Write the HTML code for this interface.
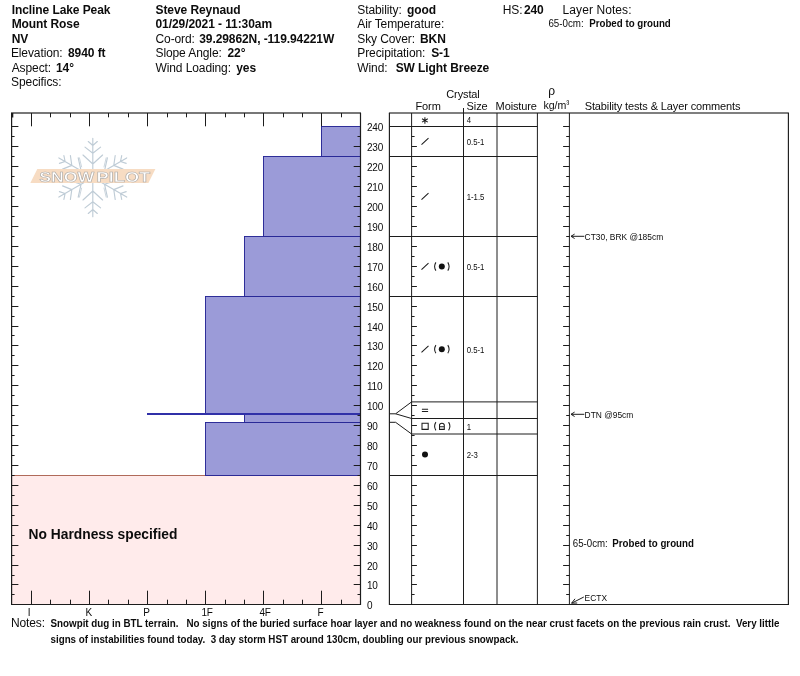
<!DOCTYPE html>
<html lang="en"><head><meta charset="utf-8"><title>Snow Pit Profile - Incline Lake Peak</title>
<style>
html,body{margin:0;padding:0;background:#fff;}
body{width:800px;height:676px;overflow:hidden;}
svg{display:block;}
text{font-family:"Liberation Sans",sans-serif;fill:#0c0c0c;font-size:12px;letter-spacing:-0.1px;}
.b{font-weight:bold;letter-spacing:-0.08px;}
.s{font-size:9.7px;letter-spacing:-0.05px;}
.c{font-size:9.4px;letter-spacing:0;}
.z{font-size:9.5px;letter-spacing:0;}
.n{font-size:10.6px;letter-spacing:0;}
.h{font-size:11px;letter-spacing:-0.12px;}
.ax{font-size:10px;letter-spacing:-0.2px;}
.ln{stroke:#1c1c1c;stroke-width:1;fill:none;}
.bar{fill:#9b9bd8;stroke:#262696;stroke-width:0.95;}
.sf{stroke:#bfccd6;stroke-width:1.15;fill:none;stroke-linecap:round;}
</style></head><body>
<svg width="800" height="676" viewBox="0 0 800 676">
<rect x="0" y="0" width="800" height="676" fill="#ffffff"/>

<text x="11.70" y="13.90" xml:space="preserve"><tspan class="b">Incline Lake Peak</tspan></text>
<text x="11.70" y="28.30" xml:space="preserve"><tspan class="b">Mount Rose</tspan></text>
<text x="11.70" y="42.80" xml:space="preserve"><tspan class="b">NV</tspan></text>
<text x="10.90" y="57.20" xml:space="preserve"><tspan>Elevation:</tspan><tspan class="b" x="68.00">8940 ft</tspan></text>
<text x="11.70" y="71.80" xml:space="preserve"><tspan>Aspect:</tspan><tspan class="b" x="56.00">14°</tspan></text>
<text x="11.10" y="86.30" xml:space="preserve"><tspan>Specifics:</tspan></text>
<text x="155.50" y="13.90" xml:space="preserve"><tspan class="b">Steve Reynaud</tspan></text>
<text x="155.50" y="28.30" xml:space="preserve"><tspan class="b">01/29/2021 - 11:30am</tspan></text>
<text x="155.50" y="42.80" xml:space="preserve"><tspan>Co-ord:</tspan><tspan class="b" x="199.20">39.29862N, -119.94221W</tspan></text>
<text x="155.50" y="57.20" xml:space="preserve"><tspan>Slope Angle:</tspan><tspan class="b" x="227.50">22°</tspan></text>
<text x="155.50" y="71.80" xml:space="preserve"><tspan>Wind Loading:</tspan><tspan class="b" x="236.20">yes</tspan></text>
<text x="357.30" y="13.90" xml:space="preserve"><tspan>Stability:</tspan><tspan class="b" x="407.00">good</tspan></text>
<text x="357.30" y="28.30" xml:space="preserve"><tspan>Air Temperature:</tspan></text>
<text x="357.30" y="42.80" xml:space="preserve"><tspan>Sky Cover:</tspan><tspan class="b" x="420.00">BKN</tspan></text>
<text x="357.30" y="57.20" xml:space="preserve"><tspan>Precipitation:</tspan><tspan class="b" x="431.20">S-1</tspan></text>
<text x="357.30" y="71.80" xml:space="preserve"><tspan>Wind:</tspan><tspan class="b" x="395.70">SW Light Breeze</tspan></text>
<text x="502.80" y="13.90" xml:space="preserve"><tspan>HS:</tspan><tspan class="b" x="523.90">240</tspan></text>
<text x="562.6" y="13.90" style="letter-spacing:0.08px">Layer Notes:</text>
<text class="n" x="548.4" y="27.3" textLength="35.3" lengthAdjust="spacingAndGlyphs">65-0cm:</text>
<text class="n b" x="589.2" y="27.3" textLength="81.6" lengthAdjust="spacingAndGlyphs">Probed to ground</text>
<rect x="11.60" y="475.50" width="348.90" height="129.00" fill="#ffebeb"/>
<line x1="11.60" y1="475.50" x2="360.50" y2="475.50" stroke="#b06a5a" stroke-width="1"/>
<rect class="bar" x="321.50" y="126.50" width="39.00" height="30.00"/>
<rect class="bar" x="263.50" y="156.50" width="97.00" height="80.00"/>
<rect class="bar" x="244.50" y="236.50" width="116.00" height="60.00"/>
<rect class="bar" x="205.50" y="296.50" width="155.00" height="117.00"/>
<rect class="bar" x="244.50" y="414.50" width="116.00" height="8.00"/>
<rect class="bar" x="205.50" y="422.50" width="155.00" height="53.00"/>
<rect x="147.00" y="413" width="213.50" height="2" fill="#3030a8"/>
<path class="sf" d="M92.8 177.5L92.8 138.3M92.8 145.5L88.3 141.5M92.8 145.5L97.3 141.5M92.8 153.3L85.0 147.1M92.8 153.3L100.6 147.1M92.8 164.0L83.0 155.0M92.8 164.0L102.6 155.0M92.8 177.5L126.7 157.9M120.5 161.5L121.7 155.6M120.5 161.5L126.2 163.4M113.8 165.4L115.2 155.5M113.8 165.4L123.0 169.1M104.5 170.8L107.4 157.8M104.5 170.8L117.2 174.7M92.8 177.5L126.7 197.1M120.5 193.5L126.2 191.6M120.5 193.5L121.7 199.4M113.8 189.6L123.0 185.9M113.8 189.6L115.2 199.5M104.5 184.2L117.2 180.3M104.5 184.2L107.4 197.2M92.8 177.5L92.8 216.7M92.8 209.5L97.3 213.5M92.8 209.5L88.3 213.5M92.8 201.7L100.6 207.9M92.8 201.7L85.0 207.9M92.8 191.0L102.6 200.0M92.8 191.0L83.0 200.0M92.8 177.5L58.9 197.1M65.1 193.5L63.9 199.4M65.1 193.5L59.4 191.6M71.8 189.6L70.4 199.5M71.8 189.6L62.6 185.9M81.1 184.2L78.2 197.2M81.1 184.2L68.4 180.3M92.8 177.5L58.9 157.9M65.1 161.5L59.4 163.4M65.1 161.5L63.9 155.6M71.8 165.4L62.6 169.1M71.8 165.4L70.4 155.5M81.1 170.8L68.4 174.7M81.1 170.8L78.2 157.8"/>
<path class="sf" d="M79.4 157.8L81.6 166.9M79.4 197.2L81.6 188.1M106.2 157.8L104.0 166.9M106.2 197.2L104.0 188.1" style="stroke-width:0.8"/>
<path d="M37.3 168.9H155.4L148.4 182.9H30.3Z" fill="#f7dcc3"/>
<text x="39.2" y="182.0" textLength="55" lengthAdjust="spacingAndGlyphs" style="font-size:14px;font-weight:bold;fill:#ffffff;stroke:#aeaaa6;stroke-width:0.55;letter-spacing:0">SNOW</text>
<text x="96.6" y="182.0" textLength="53.6" lengthAdjust="spacingAndGlyphs" style="font-size:14px;font-weight:bold;fill:#ffffff;stroke:#aeaaa6;stroke-width:0.55;letter-spacing:0">PILOT</text>
<path class="ln" d="M11.00 113.00H361.00" style="stroke-width:1.7;stroke:#4a4a4a"/>
<path class="ln" d="M11.60 113.00V604.50H360.50V113.00" style="stroke-width:1.2"/>
<path class="ln" d="M12.6 113.00v4.5" style="stroke-width:1.4"/>
<path class="ln" d="M31.50 113.00v13.30M31.50 604.50v-13.80M50.50 113.00v4.30M50.50 604.50v-4.80M70.50 113.00v4.30M70.50 604.50v-4.80M89.50 113.00v13.30M89.50 604.50v-13.80M108.50 113.00v4.30M108.50 604.50v-4.80M128.50 113.00v4.30M128.50 604.50v-4.80M147.50 113.00v13.30M147.50 604.50v-13.80M167.50 113.00v4.30M167.50 604.50v-4.80M186.50 113.00v4.30M186.50 604.50v-4.80M205.50 113.00v13.30M205.50 604.50v-13.80M225.50 113.00v4.30M225.50 604.50v-4.80M244.50 113.00v4.30M244.50 604.50v-4.80M263.50 113.00v13.30M263.50 604.50v-13.80M283.50 113.00v4.30M283.50 604.50v-4.80M302.50 113.00v4.30M302.50 604.50v-4.80M321.50 113.00v13.30M321.50 604.50v-13.80M341.50 113.00v4.30M341.50 604.50v-4.80M11.60 594.50h3.00M360.50 594.50h-3.00M11.60 584.50h6.80M360.50 584.50h-6.80M11.60 575.50h3.00M360.50 575.50h-3.00M11.60 565.50h6.80M360.50 565.50h-6.80M11.60 555.50h3.00M360.50 555.50h-3.00M11.60 545.50h6.80M360.50 545.50h-6.80M11.60 535.50h3.00M360.50 535.50h-3.00M11.60 525.50h6.80M360.50 525.50h-6.80M11.60 515.50h3.00M360.50 515.50h-3.00M11.60 505.50h6.80M360.50 505.50h-6.80M11.60 495.50h3.00M360.50 495.50h-3.00M11.60 485.50h6.80M360.50 485.50h-6.80M11.60 475.50h3.00M360.50 475.50h-3.00M11.60 465.50h6.80M360.50 465.50h-6.80M11.60 455.50h3.00M360.50 455.50h-3.00M11.60 445.50h6.80M360.50 445.50h-6.80M11.60 435.50h3.00M360.50 435.50h-3.00M11.60 425.50h6.80M360.50 425.50h-6.80M11.60 415.50h3.00M360.50 415.50h-3.00M11.60 405.50h6.80M360.50 405.50h-6.80M11.60 395.50h3.00M360.50 395.50h-3.00M11.60 385.50h6.80M360.50 385.50h-6.80M11.60 375.50h3.00M360.50 375.50h-3.00M11.60 365.50h6.80M360.50 365.50h-6.80M11.60 355.50h3.00M360.50 355.50h-3.00M11.60 345.50h6.80M360.50 345.50h-6.80M11.60 335.50h3.00M360.50 335.50h-3.00M11.60 326.50h6.80M360.50 326.50h-6.80M11.60 316.50h3.00M360.50 316.50h-3.00M11.60 306.50h6.80M360.50 306.50h-6.80M11.60 296.50h3.00M11.60 286.50h6.80M360.50 286.50h-6.80M11.60 276.50h3.00M360.50 276.50h-3.00M11.60 266.50h6.80M360.50 266.50h-6.80M11.60 256.50h3.00M360.50 256.50h-3.00M11.60 246.50h6.80M360.50 246.50h-6.80M11.60 236.50h3.00M11.60 226.50h6.80M360.50 226.50h-6.80M11.60 216.50h3.00M360.50 216.50h-3.00M11.60 206.50h6.80M360.50 206.50h-6.80M11.60 196.50h3.00M360.50 196.50h-3.00M11.60 186.50h6.80M360.50 186.50h-6.80M11.60 176.50h3.00M360.50 176.50h-3.00M11.60 166.50h6.80M360.50 166.50h-6.80M11.60 156.50h3.00M11.60 146.50h6.80M360.50 146.50h-6.80M11.60 136.50h3.00M360.50 136.50h-3.00M11.60 126.50h6.80"/>
<text class="ax" x="27.70" y="615.60">I</text>
<text class="ax" x="85.50" y="615.60">K</text>
<text class="ax" x="143.20" y="615.60">P</text>
<text class="ax" x="201.40" y="615.60">1F</text>
<text class="ax" x="259.40" y="615.60">4F</text>
<text class="ax" x="317.60" y="615.60">F</text>
<text class="ax" x="367.00" y="608.70">0</text>
<text class="ax" x="367.00" y="588.70">10</text>
<text class="ax" x="367.00" y="569.70">20</text>
<text class="ax" x="367.00" y="549.70">30</text>
<text class="ax" x="367.00" y="529.70">40</text>
<text class="ax" x="367.00" y="509.70">50</text>
<text class="ax" x="367.00" y="489.70">60</text>
<text class="ax" x="367.00" y="469.70">70</text>
<text class="ax" x="367.00" y="449.70">80</text>
<text class="ax" x="367.00" y="429.70">90</text>
<text class="ax" x="367.00" y="409.70">100</text>
<text class="ax" x="367.00" y="389.70">110</text>
<text class="ax" x="367.00" y="369.70">120</text>
<text class="ax" x="367.00" y="349.70">130</text>
<text class="ax" x="367.00" y="330.70">140</text>
<text class="ax" x="367.00" y="310.70">150</text>
<text class="ax" x="367.00" y="290.70">160</text>
<text class="ax" x="367.00" y="270.70">170</text>
<text class="ax" x="367.00" y="250.70">180</text>
<text class="ax" x="367.00" y="230.70">190</text>
<text class="ax" x="367.00" y="210.70">200</text>
<text class="ax" x="367.00" y="190.70">210</text>
<text class="ax" x="367.00" y="170.70">220</text>
<text class="ax" x="367.00" y="150.70">230</text>
<text class="ax" x="367.00" y="130.70">240</text>
<text class="b" x="28.6" y="538.8" style="font-size:13.8px;letter-spacing:0">No Hardness specified</text>
<path class="ln" d="M388.90 113.00H788.90" style="stroke-width:1.7;stroke:#555"/>
<path class="ln" d="M389.40 113.00V604.50H788.40V113.00" style="stroke-width:1.15"/>
<path class="ln" d="M411.60 113.00V604.50M463.50 108.00V604.50M497.00 113.00V604.50M537.40 113.00V604.50M569.40 113.00V604.50M389.40 126.50H537.40M389.40 156.50H537.40M389.40 236.50H537.40M389.40 296.50H537.40M389.40 475.50H537.40M411.60 401.90H537.40M411.60 418.50H537.40M411.60 434.00H537.40M389.40 413.8H395.6L411.60 401.90M395.6 413.8L411.60 418.50M389.40 422.3H395.6L411.60 434.00M569.40 126.50h-6.3M411.60 594.50h3.00M569.40 594.50h-3.20M411.60 584.50h5.30M569.40 584.50h-6.30M411.60 575.50h3.00M569.40 575.50h-3.20M411.60 565.50h5.30M569.40 565.50h-6.30M411.60 555.50h3.00M569.40 555.50h-3.20M411.60 545.50h5.30M569.40 545.50h-6.30M411.60 535.50h3.00M569.40 535.50h-3.20M411.60 525.50h5.30M569.40 525.50h-6.30M411.60 515.50h3.00M569.40 515.50h-3.20M411.60 505.50h5.30M569.40 505.50h-6.30M411.60 495.50h3.00M569.40 495.50h-3.20M411.60 485.50h5.30M569.40 485.50h-6.30M411.60 475.50h3.00M569.40 475.50h-3.20M411.60 465.50h5.30M569.40 465.50h-6.30M411.60 455.50h3.00M569.40 455.50h-3.20M411.60 445.50h5.30M569.40 445.50h-6.30M411.60 435.50h3.00M569.40 435.50h-3.20M411.60 425.50h5.30M569.40 425.50h-6.30M411.60 415.50h3.00M569.40 415.50h-3.20M411.60 405.50h5.30M569.40 405.50h-6.30M411.60 395.50h3.00M569.40 395.50h-3.20M411.60 385.50h5.30M569.40 385.50h-6.30M411.60 375.50h3.00M569.40 375.50h-3.20M411.60 365.50h5.30M569.40 365.50h-6.30M411.60 355.50h3.00M569.40 355.50h-3.20M411.60 345.50h5.30M569.40 345.50h-6.30M411.60 335.50h3.00M569.40 335.50h-3.20M411.60 326.50h5.30M569.40 326.50h-6.30M411.60 316.50h3.00M569.40 316.50h-3.20M411.60 306.50h5.30M569.40 306.50h-6.30M411.60 296.50h3.00M569.40 296.50h-3.20M411.60 286.50h5.30M569.40 286.50h-6.30M411.60 276.50h3.00M569.40 276.50h-3.20M411.60 266.50h5.30M569.40 266.50h-6.30M411.60 256.50h3.00M569.40 256.50h-3.20M411.60 246.50h5.30M569.40 246.50h-6.30M411.60 236.50h3.00M569.40 236.50h-3.20M411.60 226.50h5.30M569.40 226.50h-6.30M411.60 216.50h3.00M569.40 216.50h-3.20M411.60 206.50h5.30M569.40 206.50h-6.30M411.60 196.50h3.00M569.40 196.50h-3.20M411.60 186.50h5.30M569.40 186.50h-6.30M411.60 176.50h3.00M569.40 176.50h-3.20M411.60 166.50h5.30M569.40 166.50h-6.30M411.60 156.50h3.00M569.40 156.50h-3.20M411.60 146.50h5.30M569.40 146.50h-6.30M411.60 136.50h3.00M569.40 136.50h-3.20"/>
<text class="h" x="446.3" y="97.6">Crystal</text>
<text class="h" x="415.5" y="109.6">Form</text>
<text class="h" x="466.6" y="109.6">Size</text>
<text class="h" x="495.6" y="109.6">Moisture</text>
<text class="h" x="548.3" y="95.2" style="font-size:12px">ρ</text>
<text class="h" x="543.4" y="108.6" style="font-size:10.6px;letter-spacing:0">kg/m<tspan dy="-1.2" style="font-size:9px">³</tspan></text>
<text class="h" x="584.7" y="109.6">Stability tests &amp; Layer comments</text>
<text class="z" transform="translate(466.70 123.25) scale(0.820 1)">4</text>
<text class="z" transform="translate(466.70 145.00) scale(0.820 1)">0.5-1</text>
<text class="z" transform="translate(466.70 200.00) scale(0.820 1)">1-1.5</text>
<text class="z" transform="translate(466.70 270.00) scale(0.820 1)">0.5-1</text>
<text class="z" transform="translate(466.70 352.70) scale(0.820 1)">0.5-1</text>
<text class="z" transform="translate(466.70 429.75) scale(0.820 1)">1</text>
<text class="z" transform="translate(466.70 458.25) scale(0.820 1)">2-3</text>
<path class="ln" d="M424.9 117.15V123.75M422.00 118.75L427.80 122.15M422.00 122.15L427.80 118.75M421.5 144.70L428.5 138.20M421.5 199.70L428.5 193.20M421.5 269.70L428.5 263.20M421.5 352.40L428.5 345.90M435.90 262.40Q433.30 266.50 435.90 270.60M447.80 262.40Q450.40 266.50 447.80 270.60M435.90 345.10Q433.30 349.20 435.90 353.30M447.80 345.10Q450.40 349.20 447.80 353.30M421.9 409.20H428.1M421.9 411.40H428.1M422.0 423.15h6.2v6.2h-6.2ZM435.90 422.15Q433.30 426.25 435.90 430.35M448.60 422.15Q451.20 426.25 448.60 430.35M439.5 429.35V425.35Q439.5 423.15 441.9 423.15Q444.3 423.15 444.3 425.35V429.35ZM439.5 426.65H444.3" style="stroke-width:1.05"/>
<circle cx="441.8" cy="266.50" r="3.0" fill="#111"/>
<circle cx="441.8" cy="349.20" r="3.0" fill="#111"/>
<circle cx="425.0" cy="454.45" r="3.0" fill="#111"/>
<path class="ln" d="M571.0 236.30H584.3M574.6 234.10L571.0 236.30L574.6 238.50"/>
<text class="c" transform="translate(584.60 239.60) scale(0.895 1)">CT30, BRK @185cm</text>
<path class="ln" d="M571.0 414.30H584.3M574.6 412.10L571.0 414.30L574.6 416.50"/>
<text class="c" transform="translate(584.60 417.80) scale(0.895 1)">DTN @95cm</text>
<path class="ln" d="M571.6 603.2L583.8 597.0M575.0 598.8L571.6 603.2L577.2 603.0"/>
<text class="c" transform="translate(584.60 601.00) scale(0.895 1)">ECTX</text>
<text class="n" x="572.8" y="547.1" textLength="35.0" lengthAdjust="spacingAndGlyphs">65-0cm:</text>
<text class="n b" x="612.3" y="547.1" textLength="81.6" lengthAdjust="spacingAndGlyphs">Probed to ground</text>
<text x="10.9" y="627.0">Notes:</text>
<text class="n b" x="50.5" y="627.1" xml:space="preserve" textLength="729" lengthAdjust="spacingAndGlyphs">Snowpit dug in BTL terrain.   No signs of the buried surface hoar layer and no weakness found on the near crust facets on the previous rain crust.  Very little</text>
<text class="n b" x="50.5" y="642.6" xml:space="preserve" textLength="468" lengthAdjust="spacingAndGlyphs">signs of instabilities found today.  3 day storm HST around 130cm, doubling our previous snowpack.</text>
</svg></body></html>
